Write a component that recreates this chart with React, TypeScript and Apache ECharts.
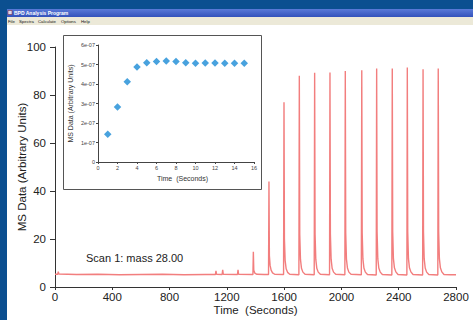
import React, { useEffect, useRef } from "react";
import * as echarts from "echarts";

// ---- main trace (time in seconds, MS data in arbitrary units) ----
const timeSec = [
  0, 19, 23, 27, 150, 300, 450, 600, 750, 900, 1050, 1120, 1124, 1128, 1167, 1171, 1175, 1274, 1278, 1282,
  1382, 1385, 1388, 1395, 1410, 1460,
  1491, 1494, 1497, 1502, 1509, 1519, 1534,
  1596, 1599, 1602, 1607, 1614, 1624, 1639,
  1703, 1706, 1709, 1714, 1721, 1731, 1746,
  1810, 1813, 1816, 1821, 1828, 1838, 1853,
  1917, 1920, 1923, 1928, 1935, 1945, 1960,
  2024, 2027, 2030, 2035, 2042, 2052, 2067,
  2139, 2142, 2145, 2150, 2157, 2167, 2182,
  2243, 2246, 2249, 2254, 2261, 2271, 2286,
  2352, 2355, 2358, 2363, 2370, 2380, 2395,
  2457, 2460, 2463, 2468, 2475, 2485, 2500,
  2567, 2570, 2573, 2578, 2585, 2595, 2610,
  2673, 2676, 2679, 2684, 2691, 2701, 2716,
  2760, 2800,
];
const msData = [
  5.3, 5.3, 6.4, 5.4, 5.2, 5.3, 5.1, 5.2, 5.3, 5.1, 5.2, 5.2, 6.7, 5.3, 5.2, 7.1, 5.3, 5.2, 7.1, 5.3,
  5.2, 14.7, 7.0, 5.8, 5.3, 5.2,
  5.2, 44, 13, 9, 7, 5.9, 5.3,
  5.2, 77, 20, 11, 7.6, 6.1, 5.3,
  5.1, 88, 22, 11.5, 7.8, 6.2, 5.3,
  5.1, 89.3, 22, 11.5, 7.8, 6.2, 5.3,
  5.1, 89.4, 22, 11.6, 7.8, 6.2, 5.3,
  5.1, 90, 22.5, 11.6, 7.9, 6.2, 5.3,
  5.1, 90.3, 22.5, 11.7, 7.9, 6.2, 5.2,
  5.0, 91, 23, 11.7, 7.9, 6.2, 5.2,
  5.0, 91, 23, 11.8, 8, 6.3, 5.2,
  5.0, 91.5, 23, 11.8, 8, 6.3, 5.2,
  5.0, 90.7, 23, 11.7, 7.9, 6.2, 5.2,
  5.0, 91, 23, 11.8, 8, 6.3, 5.2,
  5.1, 5.1,
];
const mainYTicks = [0, 20, 40, 60, 80, 100];
const mainXTicks = [0, 400, 800, 1200, 1600, 2000, 2400, 2800];

// ---- inset (first seconds of a scan) ----
const insetTime = [1, 2, 3, 4, 5, 6, 7, 8, 9, 10, 11, 12, 13, 14, 15];
const insetMs = [
  1.42e-7, 2.82e-7, 4.12e-7, 4.87e-7, 5.09e-7, 5.15e-7, 5.18e-7, 5.15e-7, 5.09e-7, 5.06e-7, 5.08e-7, 5.08e-7,
  5.06e-7, 5.07e-7, 5.06e-7,
];

const windowTitle = "BPD Analysis Program";
const menuItems = ["File", "Spectra", "Calculate", "Options", "Help"];
const annotation = "Scan 1: mass 28.00";

const FONT = "'Liberation Sans', Arial, Helvetica, sans-serif";

export default function App() {
  const ref = useRef<HTMLDivElement>(null);
  useEffect(() => {
    document.body.style.margin = "0";
    const chart = echarts.init(ref.current!, null, { renderer: "svg" });
    const menuX = [8, 19, 38, 61, 81];
    const graphic: any[] = [
      { type: "rect", z: -10, shape: { x: 7, y: 25, width: 466, height: 295 }, style: { fill: "#ffffff" } },
      {
        type: "rect",
        z: -10,
        shape: { x: 7, y: 9, width: 466, height: 8 },
        style: {
          fill: new echarts.graphic.LinearGradient(0, 0, 0, 1, [
            { offset: 0, color: "#5a7ad8" },
            { offset: 1, color: "#3352bb" },
          ]),
        },
      },
      { type: "rect", z: -10, shape: { x: 7, y: 17, width: 466, height: 8 }, style: { fill: "#ece9d8" } },
      { type: "rect", z: 5, shape: { x: 8, y: 10.5, width: 4, height: 4 }, style: { fill: "#d9d9ee", stroke: "#8a2020", lineWidth: 0.5 } },
      {
        type: "text",
        z: 10,
        x: 14,
        y: 13,
        style: { text: windowTitle, fill: "#ffffff", font: `bold 5px ${FONT}`, verticalAlign: "middle" },
      },
      ...menuItems.map((m, i) => ({
        type: "text",
        z: 10,
        x: menuX[i],
        y: 21,
        style: { text: m, fill: "#111111", font: `4.3px ${FONT}`, verticalAlign: "middle" },
      })),
      {
        type: "rect",
        z: 1,
        shape: { x: 63.5, y: 35.5, width: 198, height: 154 },
        style: { fill: "none", stroke: "#555555", lineWidth: 1 },
      },
      {
        type: "text",
        z: 10,
        x: 86,
        y: 258,
        style: { text: annotation, fill: "#222222", font: `11px ${FONT}`, verticalAlign: "middle" },
      },
    ];

    chart.setOption({
      animation: false,
      backgroundColor: "#0b4f90",
      graphic,
      grid: [
        { left: 55, top: 47, right: 17, bottom: 33, outerBoundsMode: "none", containLabel: false },
        { left: 98, top: 45, right: 219, bottom: 158, outerBoundsMode: "none", containLabel: false },
      ],
      xAxis: [
        {
          type: "value",
          gridIndex: 0,
          min: mainXTicks[0],
          max: mainXTicks[mainXTicks.length - 1],
          interval: 400,
          name: "Time  (Seconds)",
          nameLocation: "middle",
          nameGap: 17,
          nameMoveOverlap: false,
          nameTextStyle: { fontSize: 11.5, color: "#222", fontFamily: FONT },
          axisLine: { lineStyle: { color: "#333", width: 1 } },
          axisTick: { length: 3, lineStyle: { color: "#333" } },
          axisLabel: { fontSize: 11.5, color: "#222", fontFamily: FONT, margin: 4, formatter: (v: number) => String(v) },
          splitLine: { show: false },
        },
        {
          type: "value",
          gridIndex: 1,
          min: 0,
          max: 16,
          interval: 2,
          name: "Time  (Seconds)",
          nameLocation: "middle",
          nameGap: 13,
          nameMoveOverlap: false,
          nameTextStyle: { fontSize: 7, color: "#333", fontFamily: FONT, padding: [0, 0, 0, 13] },
          axisLine: { lineStyle: { color: "#444", width: 1 } },
          axisTick: { length: 2, lineStyle: { color: "#444" } },
          axisLabel: { fontSize: 5.5, color: "#444", fontFamily: FONT, margin: 3, formatter: (v: number) => String(v) },
          splitLine: { show: false },
        },
      ],
      yAxis: [
        {
          type: "value",
          gridIndex: 0,
          min: mainYTicks[0],
          max: mainYTicks[mainYTicks.length - 1],
          interval: 20,
          name: "MS Data (Arbitrary Units)",
          nameLocation: "middle",
          nameGap: 27,
          nameMoveOverlap: false,
          nameTextStyle: { fontSize: 11.5, color: "#222", fontFamily: FONT },
          axisLine: { show: true, lineStyle: { color: "#333", width: 1 } },
          axisTick: { show: true, length: 5, lineStyle: { color: "#333" } },
          axisLabel: { fontSize: 11.5, color: "#222", fontFamily: FONT, margin: 9 },
          splitLine: { show: false },
        },
        {
          type: "value",
          gridIndex: 1,
          min: 0,
          max: 6e-7,
          interval: 1e-7,
          name: "MS Data (Arbitrary Units)",
          nameLocation: "middle",
          nameGap: 24,
          nameMoveOverlap: false,
          nameTextStyle: { fontSize: 7, color: "#333", fontFamily: FONT },
          axisLine: { show: true, lineStyle: { color: "#444", width: 1 } },
          axisTick: { show: true, length: 2, lineStyle: { color: "#444" } },
          axisLabel: {
            fontSize: 5.5,
            color: "#444",
            fontFamily: FONT,
            margin: 3,
            formatter: (v: number) => (v === 0 ? "0" : Math.round(v * 1e7) + "e-07"),
          },
          splitLine: { show: false },
        },
      ],
      series: [
        {
          type: "line",
          xAxisIndex: 0,
          yAxisIndex: 0,
          data: timeSec.map((t, i) => [t, msData[i]]),
          showSymbol: false,
          lineStyle: { color: "#f27e7e", width: 1.4 },
          itemStyle: { color: "#f27e7e" },
        },
        {
          type: "scatter",
          xAxisIndex: 1,
          yAxisIndex: 1,
          data: insetTime.map((t, i) => [t, insetMs[i]]),
          symbol: "diamond",
          symbolSize: 7.5,
          itemStyle: { color: "#1a8bd6" },
        },
      ],
    });
    return () => chart.dispose();
  }, []);
  return <div ref={ref} style={{ position: "fixed", left: 0, top: 0, width: 473, height: 320 }} />;
}
